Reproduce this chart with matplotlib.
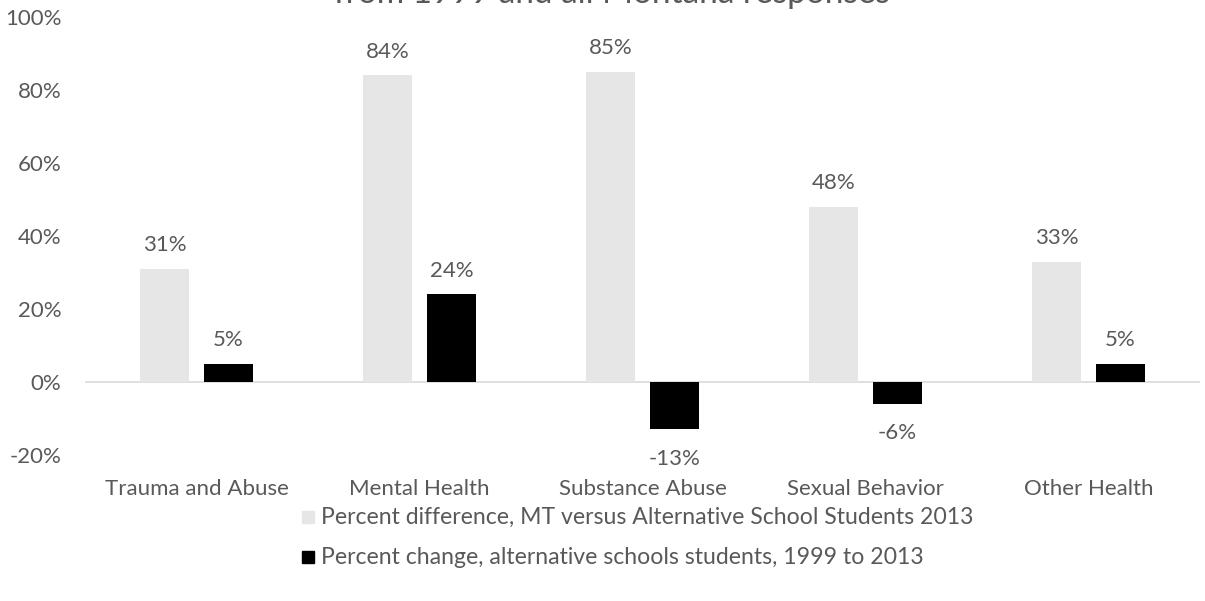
import matplotlib
matplotlib.use("Agg")
import matplotlib.pyplot as plt
import numpy as np

categories = ["Trauma and Abuse", "Mental Health", "Substance Abuse", "Sexual Behavior", "Other Health"]
pct_difference = [31, 84, 85, 48, 33]
pct_change = [5, 24, -13, -6, 5]
series_names = [
    "Percent difference, MT versus Alternative School Students 2013",
    "Percent change, alternative schools students, 1999 to 2013",
]
title_text = "from 1999 and all Montana responses"
yticks = [-20, 0, 20, 40, 60, 80, 100]

plt.rcParams['font.family'] = ['Lato', 'DejaVu Sans']
text_color = "#595959"
light = "#E6E6E6"
dark = "#000000"
fs = 16

fig = plt.figure(figsize=(12.05, 6.01), dpi=100)
ax = fig.add_axes([85 / 1205, 1 - 455 / 601, (1200 - 85) / 1205, (455 - 17) / 601])

x = np.arange(len(categories))
w = 0.224
gap = 0.063
off = (w + gap) / 2
b1 = ax.bar(x - off, pct_difference, w, color=light, zorder=2)
b2 = ax.bar(x + off, pct_change, w, color=dark, zorder=2)

for bars, vals in ((b1, pct_difference), (b2, pct_change)):
    for rect, v in zip(bars, vals):
        cx = rect.get_x() + rect.get_width() / 2
        dy = 17 if v >= 0 else -21
        ax.annotate(f"{v}%", (cx, v), xytext=(0, dy), textcoords="offset points",
                    ha="center", va="center", fontsize=fs, color=text_color)

ax.set_xlim(-0.5, len(categories) - 0.5)
ax.set_ylim(-20, 100)
ax.set_yticks(yticks)
ax.set_yticklabels([f"{t}%" for t in yticks])
ax.set_xticks(x)
ax.set_xticklabels(categories)
ax.tick_params(axis="both", length=0, labelsize=fs, colors=text_color)
ax.tick_params(axis="y", pad=17)
ax.tick_params(axis="x", pad=17)
for s in ax.spines.values():
    s.set_visible(False)
ax.axhline(0, color="#D9D9D9", lw=1.2, zorder=1)

# legend rows
leg_items = [(light, series_names[0], 517), (dark, series_names[1], 557)]
for col, label, ypix in leg_items:
    fig.patches.append(plt.Rectangle((302 / 1205, 1 - (ypix + 6) / 601), 12 / 1205, 12 / 601,
                                     transform=fig.transFigure, color=col, figure=fig))
    fig.text(321 / 1205, 1 - ypix / 601, label, fontsize=16.6, color=text_color, va="center", ha="left")

fig.text(0.508, 1 - 3 / 601, title_text, fontsize=24, color=text_color, ha="center", va="baseline")

fig.savefig("out.png", dpi=100)
